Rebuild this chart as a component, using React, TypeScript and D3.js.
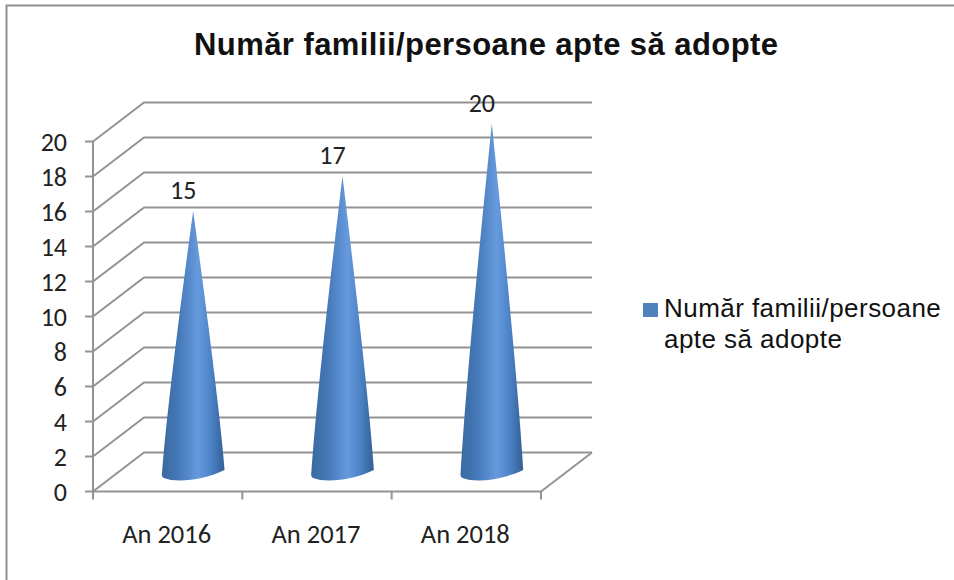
import React from "react";
import * as d3 from "d3";

const categories = ["An 2016", "An 2017", "An 2018"];
const values = [15, 17, 20];
const yTicks = [0, 2, 4, 6, 8, 10, 12, 14, 16, 18, 20];
const titleText = "Număr familii/persoane apte să adopte";
const legendLines = ["Număr familii/persoane", "apte să adopte"];

const W = 954, H = 580;
const depth = { x: 51, y: -39 };
const x = d3.scaleBand<string>().domain(categories).range([93, 541]);
const y = d3.scaleLinear().domain([0, 20]).range([491.5, 141.5]);
const grey = "#939393";
const font = "Carlito, Calibri, 'Open Sans', sans-serif";
const sans = "'Liberation Sans', Arial, sans-serif";

export default function App() {
  const bw = x.bandwidth();
  const rx = bw * 0.21;
  const pathFor = (d: number, c: string) => {
    const cx = x(c)! + bw / 2 + depth.x / 2;
    const y0 = y(0) + depth.y / 2 + 1.5;
    const tip = y(d) + depth.y / 2 + 1.5;
    const ctrl = tip + (y0 - tip) * 0.72;
    const half = rx * 0.82;
    const p = d3.path();
    p.moveTo(cx, tip);
    p.quadraticCurveTo(cx + half, ctrl, cx + rx, y0 - 3.5);
    p.bezierCurveTo(cx + 12, y0 + 6, cx - rx * 0.5, y0 + 10, cx - rx + 2, y0 + 4.5);
    p.quadraticCurveTo(cx - rx, y0 + 3.5, cx - rx, y0 + 1.5);
    p.quadraticCurveTo(cx - half, ctrl, cx, tip);
    p.closePath();
    return p.toString();
  };
  return (
    <svg width={W} height={H} style={{ position: "absolute", left: 0, top: 0, background: "#fff" }}>
      <defs>
        <linearGradient id="cone" x1="0" x2="1" y1="0" y2="0">
          <stop offset="0" stopColor="#3a6a9f" />
          <stop offset="0.25" stopColor="#4377b6" />
          <stop offset="0.58" stopColor="#669ade" />
          <stop offset="0.8" stopColor="#4a80c4" />
          <stop offset="1" stopColor="#335f94" />
        </linearGradient>
      </defs>
      <path d={`M6.5,580V5.5H${W}`} fill="none" stroke="#8f8f8f" strokeWidth={2} />
      <text x={194} y={55} textLength={584} lengthAdjust="spacing" fontFamily={sans} fontSize={31} fontWeight={700} fill="#111">{titleText}</text>

      {yTicks.map((t) => (
        <path key={t} d={`M${93},${y(t)}L${93 + depth.x},${y(t) + depth.y}H${541 + depth.x}`} fill="none" stroke={grey} strokeWidth={2} />
      ))}
      <path d={`M541,${y(0)}L${541 + depth.x},${y(0) + depth.y}`} fill="none" stroke={grey} strokeWidth={2} />
      <path d={`M93,${y(20)}V${y(0)}H541`} fill="none" stroke={grey} strokeWidth={2} />
      {yTicks.map((t) => (
        <g key={t}>
          <line x1={85} x2={93} y1={y(t)} y2={y(t)} stroke={grey} strokeWidth={2} />
          <text x={67} y={y(t) + 9} textAnchor="end" fontFamily={font} fontSize={26} fill="#222">{t}</text>
        </g>
      ))}
      {[...categories.map((c) => x(c)!), 541].map((px) => (
        <line key={px} x1={px} x2={px} y1={y(0)} y2={y(0) + 8} stroke={grey} strokeWidth={2} />
      ))}
      {categories.map((c) => (
        <text key={c} x={x(c)! + bw / 2 - 1} y={543} textAnchor="middle" fontFamily={font} fontSize={26.5} fill="#222">{c}</text>
      ))}
      {categories.map((c, i) => (
        <g key={c}>
          <path d={pathFor(values[i], c)} fill="url(#cone)" />
          <text x={x(c)! + bw / 2 + depth.x / 2 - 10} y={y(values[i]) + depth.y / 2 - 10.5} textAnchor="middle" fontFamily={font} fontSize={26} fill="#222">{values[i]}</text>
        </g>
      ))}
      <rect x={643} y={303} width={15} height={14} fill="#4f81bd" />
      {legendLines.map((l, i) => (
        <text key={l} x={664} y={317 + i * 31} fontFamily={sans} fontSize={26} letterSpacing={0.45} fill="#111">{l}</text>
      ))}
    </svg>
  );
}
